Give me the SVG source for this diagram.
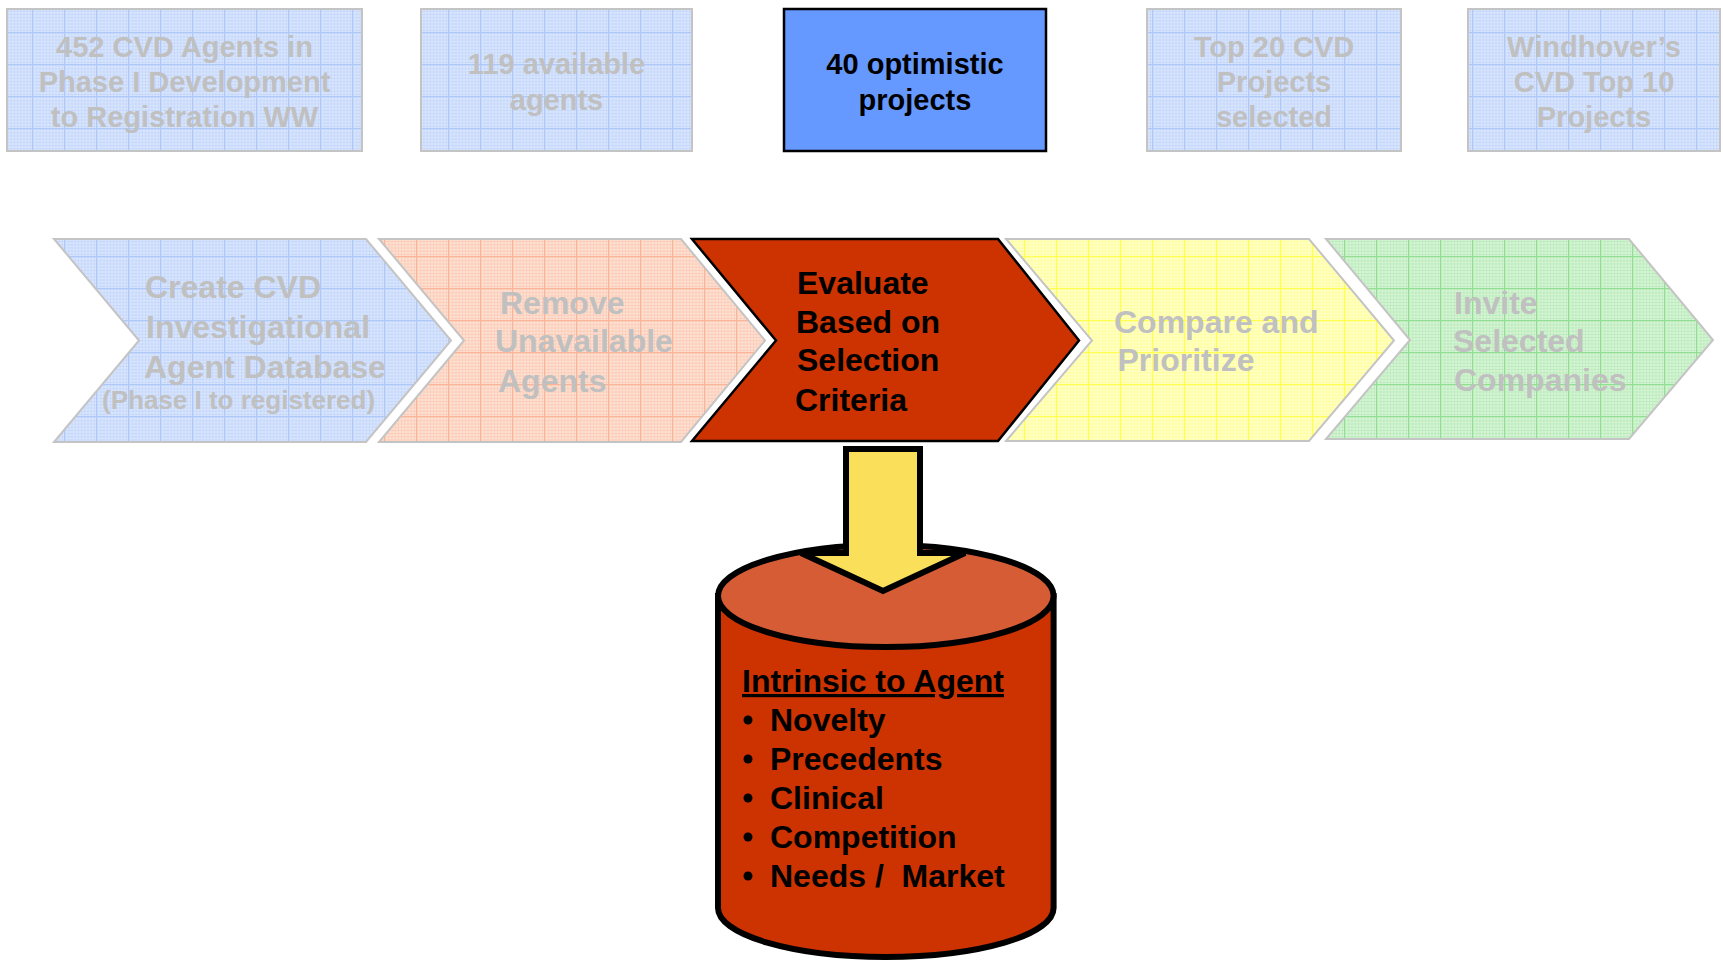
<svg xmlns="http://www.w3.org/2000/svg" width="1723" height="961" viewBox="0 0 1723 961">
<style>
.t{font-family:"Liberation Sans",Arial,sans-serif;font-weight:bold}
.fade{fill:#c0c0c0}
.s29{font-size:29px}
.s32{font-size:32px}
.s26{font-size:26px}
.fbox{stroke:#c4c4c4;stroke-width:2}
.blk{fill:#000}
</style>
<defs>
<pattern id="gBlue" width="32" height="32" patternUnits="userSpaceOnUse">
<rect width="32" height="32" fill="#dbe7fd"/>
<path d="M1.6 0V32M4.8 0V32M8 0V32M11.2 0V32M14.4 0V32M17.6 0V32M20.8 0V32M24 0V32M27.2 0V32M30.4 0V32M0 1.6H32M0 4.8H32M0 8H32M0 11.2H32M0 14.4H32M0 17.6H32M0 20.8H32M0 24H32M0 27.2H32M0 30.4H32" stroke="#c6d8fb" stroke-width="1"/>
<path d="M0.5 0V32M0 0.5H32" stroke="#aec8f8" stroke-width="1"/>
</pattern>
<pattern id="gSalmon" width="32" height="32" patternUnits="userSpaceOnUse">
<rect width="32" height="32" fill="#fde3d7"/>
<path d="M1.6 0V32M4.8 0V32M8 0V32M11.2 0V32M14.4 0V32M17.6 0V32M20.8 0V32M24 0V32M27.2 0V32M30.4 0V32M0 1.6H32M0 4.8H32M0 8H32M0 11.2H32M0 14.4H32M0 17.6H32M0 20.8H32M0 24H32M0 27.2H32M0 30.4H32" stroke="#fccdb8" stroke-width="1"/>
<path d="M0.5 0V32M0 0.5H32" stroke="#fab497" stroke-width="1"/>
</pattern>
<pattern id="gYellow" width="32" height="32" patternUnits="userSpaceOnUse">
<rect width="32" height="32" fill="#ffffd2"/>
<path d="M1.6 0V32M4.8 0V32M8 0V32M11.2 0V32M14.4 0V32M17.6 0V32M20.8 0V32M24 0V32M27.2 0V32M30.4 0V32M0 1.6H32M0 4.8H32M0 8H32M0 11.2H32M0 14.4H32M0 17.6H32M0 20.8H32M0 24H32M0 27.2H32M0 30.4H32" stroke="#ffff9a" stroke-width="1"/>
<path d="M0.5 0V32M0 0.5H32" stroke="#ffff50" stroke-width="1"/>
</pattern>
<pattern id="gGreen" width="32" height="32" patternUnits="userSpaceOnUse">
<rect width="32" height="32" fill="#d9f5d9"/>
<path d="M1.6 0V32M4.8 0V32M8 0V32M11.2 0V32M14.4 0V32M17.6 0V32M20.8 0V32M24 0V32M27.2 0V32M30.4 0V32M0 1.6H32M0 4.8H32M0 8H32M0 11.2H32M0 14.4H32M0 17.6H32M0 20.8H32M0 24H32M0 27.2H32M0 30.4H32" stroke="#bcecbc" stroke-width="1"/>
<path d="M0.5 0V32M0 0.5H32" stroke="#92de92" stroke-width="1"/>
</pattern>
</defs>
<rect width="1723" height="961" fill="#fff"/>

<!-- Top boxes -->
<g id="box-452">
<rect x="7" y="9" width="355" height="142" fill="url(#gBlue)" class="fbox"/>
<text class="t fade s29" text-anchor="middle"><tspan x="184.5" y="56.5">452 CVD Agents in</tspan><tspan x="184.5" y="91.5">Phase I Development</tspan><tspan x="184.5" y="127">to Registration WW</tspan></text>
</g>
<g id="box-119">
<rect x="421" y="9" width="271" height="142" fill="url(#gBlue)" class="fbox"/>
<text class="t fade s29" text-anchor="middle"><tspan x="556.5" y="74">119 available</tspan><tspan x="556.5" y="109.5">agents</tspan></text>
</g>
<g id="box-40">
<rect x="784" y="9" width="262" height="142" fill="#6699ff" stroke="#000" stroke-width="2.5"/>
<text class="t blk s29" text-anchor="middle"><tspan x="915" y="74">40 optimistic</tspan><tspan x="915" y="109.5">projects</tspan></text>
</g>
<g id="box-top20">
<rect x="1147" y="9" width="254" height="142" fill="url(#gBlue)" class="fbox"/>
<text class="t fade s29" text-anchor="middle"><tspan x="1274" y="56.5">Top 20 CVD</tspan><tspan x="1274" y="91.5">Projects</tspan><tspan x="1274" y="127">selected</tspan></text>
</g>
<g id="box-windhover">
<rect x="1468" y="9" width="252" height="142" fill="url(#gBlue)" class="fbox"/>
<text class="t fade s29" text-anchor="middle"><tspan x="1594" y="56.5">Windhover’s</tspan><tspan x="1594" y="91.5">CVD Top 10</tspan><tspan x="1594" y="127">Projects</tspan></text>
</g>

<!-- Chevrons -->
<g id="step-create">
<path d="M54 239H366L451 340.5L366 442H54L139 340.5Z" fill="url(#gBlue)" class="fbox"/>
<text class="t fade s32"><tspan x="145" y="298">Create CVD</tspan><tspan x="146" y="338">Investigational</tspan><tspan x="144" y="377.5">Agent Database</tspan></text>
<text class="t fade s26" x="102" y="409">(Phase I to registered)</text>
</g>
<g id="step-remove">
<path d="M379 239H681L765 340.5L681 442H379L464 340.5Z" fill="url(#gSalmon)" class="fbox"/>
<text class="t fade s32"><tspan x="500" y="313.5">Remove</tspan><tspan x="495" y="352">Unavailable</tspan><tspan x="498" y="391.5">Agents</tspan></text>
</g>
<g id="step-evaluate">
<path d="M692 239H998L1079 340.5L998 441H692L776 340.5Z" fill="#cc3300" stroke="#000" stroke-width="2.5" stroke-linejoin="miter"/>
<text class="t blk s32"><tspan x="797" y="294">Evaluate</tspan><tspan x="796" y="332.5">Based on</tspan><tspan x="797" y="371">Selection</tspan><tspan x="795" y="410.5">Criteria</tspan></text>
</g>
<g id="step-compare">
<path d="M1006 239H1309L1394 340.5L1309 441H1006L1092 340.5Z" fill="url(#gYellow)" class="fbox"/>
<text class="t fade s32"><tspan x="1114" y="332.5">Compare and</tspan><tspan x="1117.5" y="371">Prioritize</tspan></text>
</g>
<g id="step-invite">
<path d="M1326 239H1629L1713 340L1629 439H1326L1410 340Z" fill="url(#gGreen)" class="fbox"/>
<text class="t fade s32"><tspan x="1454" y="313.5">Invite</tspan><tspan x="1453" y="352">Selected</tspan><tspan x="1454" y="390.5">Companies</tspan></text>
</g>

<!-- Cylinder -->
<g id="criteria-db">
<path d="M718 596V908A167.8 49 0 0 0 1053.6 908V596Z" fill="#cc3300" stroke="#000" stroke-width="6"/>
<ellipse cx="885.8" cy="596" rx="167.8" ry="51" fill="#d55c35" stroke="#000" stroke-width="6"/>
<text class="t blk s32" x="742" y="692" text-decoration="underline">Intrinsic to Agent</text>
<g class="t blk s32" style="white-space:pre">
<circle cx="748" cy="720" r="4.5"/><text x="770" y="731">Novelty</text>
<circle cx="748" cy="759" r="4.5"/><text x="770" y="770">Precedents</text>
<circle cx="748" cy="798" r="4.5"/><text x="770" y="809">Clinical</text>
<circle cx="748" cy="837" r="4.5"/><text x="770" y="848">Competition</text>
<circle cx="748" cy="876" r="4.5"/><text x="770" y="887" xml:space="preserve">Needs /  Market</text>
</g>
</g>

<!-- Connector: block arrow -->
<g id="connectors">
<path d="M846 449H920V553H965L883 591L801 553H846Z" fill="#f9df5a" stroke="#000" stroke-width="6" stroke-linejoin="miter"/>
</g>
</svg>
